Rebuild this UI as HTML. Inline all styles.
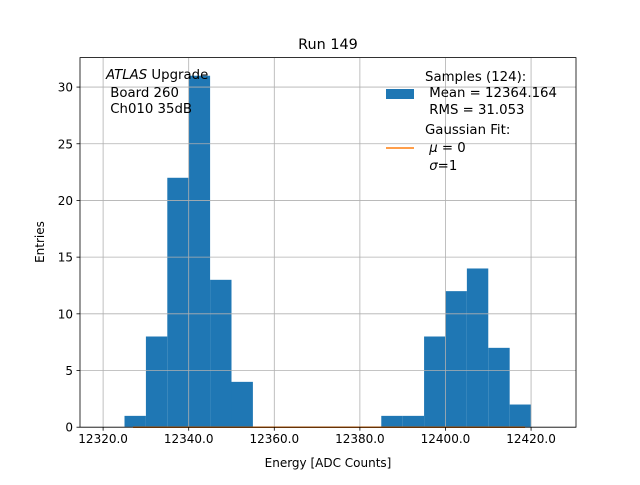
<!DOCTYPE html>
<html><head><meta charset="utf-8"><style>
body{margin:0;background:#fff;}
svg{font-family:"DejaVu Sans","Liberation Sans",sans-serif;}
text{white-space:pre;}
</style></head><body>
<svg id="chart" width="640" height="480" viewBox="0 0 640 480">
<rect width="640" height="480" fill="#fff"/>
<g id="bars"></g>
<g id="grid"></g>
<g id="fit"></g>
<rect x="80" y="57.6" width="496" height="369.6" fill="none" stroke="#000" stroke-width="0.8"/>
<g id="xticks"></g><g id="yticks"></g>
<text x="328" y="49" text-anchor="middle" font-size="14.4">Run 149</text>
<text x="328" y="467" text-anchor="middle" font-size="12">Energy [ADC Counts]</text>
<text x="44" y="242" text-anchor="middle" font-size="12" transform="rotate(-90 44 242)">Entries</text>
<g font-size="13.3">
<text x="106" y="79"><tspan font-style="italic">ATLAS</tspan> Upgrade</text>
<text x="106" y="97"> Board 260</text>
<text x="106" y="113"> Ch010 35dB</text>
</g>
<g font-size="13.3">
<rect x="386" y="89" width="28" height="10" fill="#1f77b4"/>
<text x="425" y="81">Samples (124):</text>
<text x="425" y="97"> Mean = 12364.164</text>
<text x="425" y="114"> RMS = 31.053</text>
<line x1="386" y1="148" x2="414" y2="148" stroke="#ff7f0e" stroke-width="1.5"/>
<text x="425" y="134">Gaussian Fit:</text>
<text x="425" y="152"> <tspan font-style="italic">μ</tspan> = 0</text>
<text x="425" y="170"> <tspan font-style="italic">σ</tspan>=1</text>
</g>
</svg>
<script>
const binStarts=[12325,12330,12335,12340,12345,12350,12355,12360,12365,12370,12375,12380,12385,12390,12395,12400,12405,12410,12415];
const counts=[1,8,22,31,13,4,0,0,0,0,0,0,1,1,8,12,14,7,2];
const binWidth=5;
const xTicks=[12320,12340,12360,12380,12400,12420];
const yTicks=[0,5,10,15,20,25,30];
const fitRange=[12327,12418.6];
const X0=12314.6,X1=12430.5,Y1=32.6;
const L=80,R=576,T=57.6,B=427.2;
const xs=v=>L+(v-X0)/(X1-X0)*(R-L);
const ys=v=>B-v/Y1*(B-T);
const NS="http://www.w3.org/2000/svg";
function mk(tag,attrs,parent){const e=document.createElementNS(NS,tag);for(const k in attrs)e.setAttribute(k,attrs[k]);document.getElementById(parent).appendChild(e);return e;}
binStarts.forEach((s,i)=>{if(!counts[i])return;
const r=mk('rect',{x:xs(s),y:ys(counts[i]),width:xs(s+binWidth)-xs(s),height:B-ys(counts[i]),fill:'#1f77b4'},'bars');

});
xTicks.forEach(t=>{const x=xs(t);
const g=mk('line',{x1:x,x2:x,y1:T,y2:B,stroke:'#b0b0b0','stroke-width':0.8},'grid');


mk('line',{x1:x,x2:x,y1:B,y2:B+3.5,stroke:'#000','stroke-width':0.8},'xticks');
const tx=mk('text',{x:x,y:B+16,'text-anchor':'middle','font-size':12},'xticks');tx.textContent=t.toFixed(1);

});
yTicks.forEach(t=>{const y=ys(t);
const g=mk('line',{x1:L,x2:R,y1:y,y2:y,stroke:'#b0b0b0','stroke-width':0.8},'grid');


mk('line',{x1:L-3.5,x2:L,y1:y,y2:y,stroke:'#000','stroke-width':0.8},'yticks');
const tx=mk('text',{x:L-7,y:y+4.5,'text-anchor':'end','font-size':12},'yticks');tx.textContent=t;

});
const f=mk('line',{x1:xs(fitRange[0]),x2:xs(fitRange[1]),y1:ys(0),y2:ys(0),stroke:'#ff7f0e','stroke-width':1.5},'fit');


</script>
</body></html>
